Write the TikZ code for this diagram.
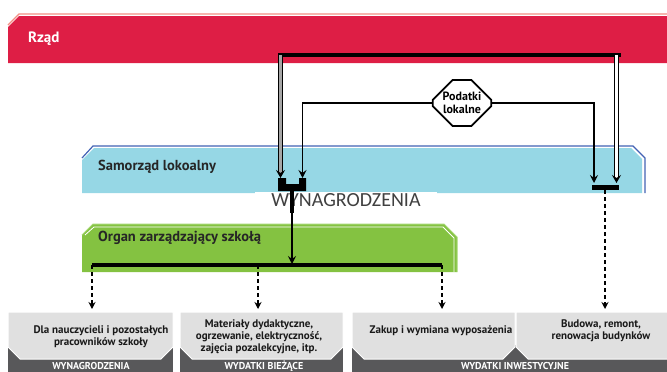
\documentclass[tikz,border=0pt]{standalone}
\usepackage{fontspec}
\setsansfont{PT Sans}
\newfontfamily\labelfont{Carlito}
\usetikzlibrary{arrows.meta,shapes.misc}

\definecolor{rzadred}{RGB}{222,30,69}
\definecolor{rzadedge}{RGB}{242,140,130}
\definecolor{samblue}{RGB}{150,215,229}
\definecolor{samedge}{RGB}{66,98,180}
\definecolor{organgreen}{RGB}{132,194,65}
\definecolor{organedge}{RGB}{165,215,115}
\definecolor{boxgray}{RGB}{224,224,224}
\definecolor{tagdark}{RGB}{88,88,90}

\tikzset{
    bandtitle/.style={anchor=west, inner sep=0pt, font=\sffamily\bfseries\fontsize{14.5}{16}\selectfont},
    boxtext/.style={align=center, text=black!90, font=\sffamily\bfseries\fontsize{11}{12}\selectfont},
    tagtext/.style={text=white, font=\sffamily\bfseries\fontsize{10}{11}\selectfont},
    feed/.style={line width=0.9pt, double distance=2.4pt, -{Stealth[length=8pt,width=9pt,inset=3pt]}},
    flow/.style={line width=1.3pt, -{Stealth[length=8pt,width=8pt,inset=3pt]}},
    spend/.style={line width=1.6pt, dash pattern=on 4pt off 3pt, -{Stealth[length=7pt,width=7pt]}},
    bar/.style={line width=4pt}
}

\begin{document}
\begin{tikzpicture}[x=1pt, y=-1pt]
    \useasboundingbox (0,0) rectangle (667,372);

    % bands
    \fill[rzadred] (8,27) -- (19,16) -- (667,16) -- (667,63) -- (8,63) -- cycle;
    \draw[rzadedge, line width=1.2pt] (8,25) -- (19,14) -- (667,14);
    \node[bandtitle, text=white, font=\sffamily\bfseries\fontsize{15}{16}\selectfont] (rzad) at (28,39) {Rząd};

    \fill[samblue] (82,160) -- (94,148) -- (631,148) -- (642,159) -- (642,193) -- (82,193) -- cycle;
    \draw[samedge, line width=1.2pt] (82,158) -- (93,146) -- (633,146) -- (645,158) -- (645,193);
    \node[bandtitle, text=black!85] (samorzad) at (98,167) {Samorząd lokoalny};

    \fill[organgreen] (82,235) -- (93,224) -- (444,224) -- (457,237) -- (457,272) -- (82,272) -- cycle;
    \draw[organedge, line width=1pt] (82,235) -- (93,224) -- (444,224) -- (457,237) -- (457,272);
    \draw[white, line width=0.8pt] (85,235) -- (94,227) -- (443,227) -- (454,238) -- (454,272);
    \node[bandtitle, text=black!85] (organ) at (98,238) {Organ zarządzający szkołą};

    % local taxes
    \node[chamfered rectangle, chamfered rectangle sep=10pt, draw, line width=1.8pt, fill=white,
          minimum width=58pt, minimum height=46pt, inner sep=0pt, align=center,
          font=\sffamily\bfseries\fontsize{12}{13.5}\selectfont] (podatki) at (462,103) {Podatki\\lokalne};

    % junctions
    \coordinate (feedL) at (280.5,55);
    \coordinate (feedR) at (616.5,55);
    \coordinate (inL) at (280.5,178);
    \coordinate (taxL) at (302.5,178);
    \coordinate (inR) at (616.5,183);
    \coordinate (taxR) at (594,183);
    \coordinate (splitL) at (292,191);
    \coordinate (splitR) at (605,190);
    \fill (278,178) -- (286,178) -- (286,184) -- (299,184) -- (299,178) -- (306,178) -- (306,191) -- (278,191) -- cycle;
    \fill (592,185) rectangle (619,190);

    \node[fill=white, inner sep=0pt, minimum width=182pt, minimum height=16pt, text=black!75,
          font=\labelfont\fontsize{20}{20}\selectfont] (wyn) at (346,200) {WYNAGRODZENIA};

    % flows
    \draw[bar] (278,55) -- (621,55);
    \draw[feed, double=black!35] (feedL) -- (inL);
    \draw[feed, double=white] (feedR) -- (inR);
    \draw[flow] (podatki.west) -| (taxL);
    \draw[flow] (podatki.east) -| (taxR);

    \coordinate (thin) at (292,213);
    \coordinate (payL) at (292,264);
    \draw[bar] (splitL) -- (thin);
    \draw[flow] (thin) -- (payL);

    \draw[bar] (92,265) -- (442,265);

    % spending boxes
    \fill[tagdark] (8,345) rectangle (173,372);
    \fill[tagdark] (180,345) rectangle (343,372);
    \fill[tagdark] (352,345) rectangle (667,372);
    \foreach \a/\b in {8/173, 180/343, 352/515, 516/690}
        \fill[boxgray, draw=white, line width=1pt] (\a,312) -- (\b,312) -- (\b,347) -- (\b-12,359) -- (\a+12,359) -- (\a,347) -- cycle;

    \node[boxtext] (wages) at (101,337) {Dla nauczycieli i pozostałych\\pracowników szkoły};
    \node[boxtext] (current) at (259,337) {Materiały dydaktyczne,\\ogrzewanie, elektryczność,\\zajęcia pozalekcyjne, itp.};
    \node[boxtext] (equip) at (441,331) {Zakup i wymiana wyposażenia};
    \node[boxtext] (build) at (601,331) {Budowa, remont,\\renowacja budynków};

    \node[tagtext] (tagwages) at (91,366) {WYNAGRODZENIA};
    \node[tagtext] (tagcurrent) at (264,366) {WYDATKI BIEŻĄCE};
    \node[tagtext] (taginvest) at (515,366) {WYDATKI INWESTYCYJNE};

    \foreach \x/\n in {92/wagesin, 258/currentin, 442/equipin}{
        \coordinate (\n) at (\x,309);
        \draw[spend] (\x,265) -- (\n);
    }
    \coordinate (buildin) at (605,309);
    \draw[spend] (splitR) -- (buildin);

\end{tikzpicture}
\end{document}
